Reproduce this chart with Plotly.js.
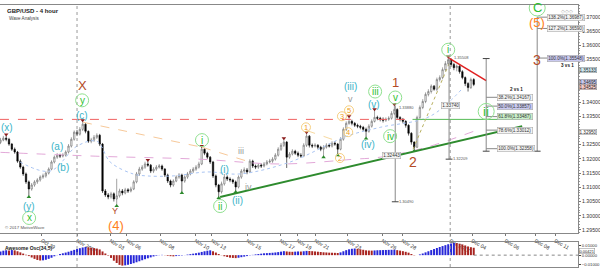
<!DOCTYPE html>
<html><head><meta charset="utf-8">
<script src="https://cdn.plot.ly/plotly-3.0.1.min.js"></script>
<style>html,body{margin:0;padding:0;background:#fff;}#chart{width:600px;height:271px;}</style>
</head><body><div id="chart"></div>
<script>
// ---- 4-hour candles (GBP/USD) ----
const opens = [
1.3258,1.3266,1.3273,1.3269,1.3252,1.3234,1.3224,1.3192,1.3171,1.3147,
1.3119,1.3094,1.3108,1.3119,1.3126,1.3136,1.3140,1.3150,1.3164,1.3189,
1.3206,1.3213,1.3210,1.3213,1.3224,1.3245,1.3269,1.3294,1.3287,1.3304,
1.3322,1.3297,1.3262,1.3266,1.3276,1.3283,1.3252,1.3087,1.3073,1.3066,
1.3077,1.3059,1.3070,1.3087,1.3080,1.3091,1.3087,1.3094,1.3119,1.3147,
1.3164,1.3171,1.3182,1.3178,1.3157,1.3164,1.3171,1.3175,1.3164,1.3143,
1.3122,1.3108,1.3122,1.3136,1.3143,1.3122,1.3136,1.3147,1.3157,1.3164,
1.3171,1.3182,1.3234,1.3220,1.3206,1.3189,1.3140,1.3108,1.3084,1.3112,
1.3136,1.3129,1.3126,1.3119,1.3101,1.3136,1.3157,1.3161,1.3154,1.3192,
1.3175,1.3171,1.3178,1.3175,1.3182,1.3189,1.3192,1.3199,1.3213,1.3234,
1.3248,1.3259,1.3206,1.3217,1.3227,1.3220,1.3213,1.3210,1.3248,1.3280,
1.3248,1.3245,1.3248,1.3241,1.3234,1.3241,1.3248,1.3245,1.3255,1.3252,
1.3234,1.3269,1.3304,1.3325,1.3332,1.3325,1.3318,1.3315,1.3311,1.3304,
1.3297,1.3315,1.3332,1.3346,1.3343,1.3339,1.3336,1.3339,1.3343,1.3360,
1.3374,1.3346,1.3339,1.3332,1.3318,1.3290,1.3259,1.3241,1.3346,1.3381,
1.3402,1.3427,1.3437,1.3456,1.3445,1.3479,1.3486,1.3514,1.3535,1.3549,
1.3532,1.3521,1.3526,1.3507,1.3486,1.3465,1.3451,1.3479];
const highs = [
1.3274,1.3281,1.3282,1.3274,1.3256,1.3240,1.3228,1.3198,1.3176,1.3152,
1.3124,1.3115,1.3125,1.3132,1.3142,1.3148,1.3156,1.3170,1.3195,1.3212,
1.3220,1.3218,1.3220,1.3230,1.3252,1.3276,1.3300,1.3302,1.3312,1.3332,
1.3326,1.3300,1.3274,1.3284,1.3290,1.3288,1.3256,1.3094,1.3080,1.3084,
1.3082,1.3130,1.3095,1.3094,1.3098,1.3097,1.3102,1.3125,1.3154,1.3172,
1.3178,1.3190,1.3192,1.3182,1.3171,1.3178,1.3182,1.3180,1.3168,1.3148,
1.3127,1.3128,1.3142,1.3150,1.3148,1.3142,1.3154,1.3164,1.3171,1.3178,
1.3190,1.3241,1.3238,1.3225,1.3210,1.3193,1.3145,1.3112,1.3120,1.3147,
1.3142,1.3135,1.3130,1.3124,1.3142,1.3164,1.3170,1.3168,1.3199,1.3197,
1.3180,1.3185,1.3184,1.3189,1.3196,1.3200,1.3206,1.3220,1.3241,1.3256,
1.3269,1.3263,1.3224,1.3234,1.3232,1.3226,1.3220,1.3255,1.3290,1.3284,
1.3254,1.3255,1.3252,1.3246,1.3248,1.3255,1.3254,1.3262,1.3262,1.3256,
1.3276,1.3311,1.3332,1.3346,1.3338,1.3330,1.3324,1.3320,1.3316,1.3310,
1.3322,1.3339,1.3371,1.3352,1.3348,1.3346,1.3346,1.3350,1.3368,1.3388,
1.3378,1.3350,1.3344,1.3336,1.3322,1.3294,1.3262,1.3352,1.3388,1.3410,
1.3434,1.3445,1.3462,1.3460,1.3486,1.3494,1.3522,1.3544,1.3556,1.3554,
1.3538,1.3532,1.3530,1.3512,1.3490,1.3470,1.3486,1.3484];
const lows = [
1.3252,1.3262,1.3262,1.3246,1.3228,1.3218,1.3186,1.3165,1.3140,1.3112,
1.3070,1.3088,1.3102,1.3112,1.3120,1.3130,1.3134,1.3145,1.3160,1.3184,
1.3200,1.3203,1.3205,1.3208,1.3219,1.3240,1.3264,1.3280,1.3282,1.3298,
1.3290,1.3256,1.3255,1.3260,1.3270,1.3245,1.3080,1.3066,1.3058,1.3060,
1.3050,1.3038,1.3064,1.3072,1.3075,1.3080,1.3082,1.3090,1.3114,1.3140,
1.3158,1.3165,1.3172,1.3150,1.3150,1.3158,1.3166,1.3158,1.3136,1.3115,
1.3100,1.3102,1.3118,1.3130,1.3084,1.3116,1.3130,1.3142,1.3150,1.3158,
1.3166,1.3178,1.3213,1.3200,1.3182,1.3133,1.3100,1.3066,1.3078,1.3106,
1.3122,1.3118,1.3112,1.3087,1.3096,1.3130,1.3150,1.3146,1.3150,1.3168,
1.3164,1.3165,1.3168,1.3170,1.3177,1.3184,1.3186,1.3194,1.3208,1.3228,
1.3242,1.3168,1.3200,1.3212,1.3214,1.3206,1.3204,1.3206,1.3242,1.3240,
1.3238,1.3240,1.3234,1.3227,1.3210,1.3236,1.3240,1.3240,1.3246,1.3217,
1.3230,1.3264,1.3298,1.3320,1.3318,1.3312,1.3308,1.3304,1.3298,1.3276,
1.3292,1.3310,1.3328,1.3336,1.3332,1.3328,1.3330,1.3334,1.3338,1.3354,
1.3340,1.3332,1.3325,1.3310,1.3282,1.3250,1.3232,1.3238,1.3340,1.3375,
1.3396,1.3420,1.3430,1.3440,1.3438,1.3472,1.3480,1.3508,1.3528,1.3524,
1.3512,1.3508,1.3500,1.3480,1.3456,1.3437,1.3446,1.3456];
const closes = [
1.3266,1.3273,1.3269,1.3252,1.3234,1.3224,1.3192,1.3171,1.3147,1.3119,
1.3094,1.3108,1.3119,1.3126,1.3136,1.3140,1.3150,1.3164,1.3189,1.3206,
1.3213,1.3210,1.3213,1.3224,1.3245,1.3269,1.3294,1.3287,1.3304,1.3322,
1.3297,1.3262,1.3266,1.3276,1.3283,1.3252,1.3087,1.3073,1.3066,1.3077,
1.3059,1.3070,1.3087,1.3080,1.3091,1.3087,1.3094,1.3119,1.3147,1.3164,
1.3171,1.3182,1.3178,1.3157,1.3164,1.3171,1.3175,1.3164,1.3143,1.3122,
1.3108,1.3122,1.3136,1.3143,1.3122,1.3136,1.3147,1.3157,1.3164,1.3171,
1.3182,1.3234,1.3220,1.3206,1.3189,1.3140,1.3108,1.3084,1.3112,1.3136,
1.3129,1.3126,1.3119,1.3101,1.3136,1.3157,1.3161,1.3154,1.3192,1.3175,
1.3171,1.3178,1.3175,1.3182,1.3189,1.3192,1.3199,1.3213,1.3234,1.3248,
1.3259,1.3206,1.3217,1.3227,1.3220,1.3213,1.3210,1.3248,1.3280,1.3248,
1.3245,1.3248,1.3241,1.3234,1.3241,1.3248,1.3245,1.3255,1.3252,1.3234,
1.3269,1.3304,1.3325,1.3332,1.3325,1.3318,1.3315,1.3311,1.3304,1.3297,
1.3315,1.3332,1.3346,1.3343,1.3339,1.3336,1.3339,1.3343,1.3360,1.3374,
1.3346,1.3339,1.3332,1.3318,1.3290,1.3259,1.3241,1.3346,1.3381,1.3402,
1.3427,1.3437,1.3456,1.3445,1.3479,1.3486,1.3514,1.3535,1.3549,1.3532,
1.3521,1.3526,1.3507,1.3486,1.3465,1.3451,1.3479,1.3462];
// Awesome Oscillator (34,5)
const aoValues = [
0.0040,0.0048,0.0053,0.0050,0.0055,0.0052,0.0042,0.0030,0.0017,0.0005,
-0.0010,-0.0025,-0.0040,-0.0052,-0.0058,-0.0056,-0.0050,-0.0040,-0.0028,-0.0012,
0.0002,0.0012,0.0020,0.0028,0.0037,0.0047,0.0057,0.0066,0.0075,0.0083,
0.0088,0.0085,0.0080,0.0076,0.0071,0.0062,0.0040,0.0018,-0.0005,-0.0030,
-0.0060,-0.0085,-0.0105,-0.0113,-0.0110,-0.0104,-0.0096,-0.0087,-0.0077,-0.0066,
-0.0055,-0.0044,-0.0034,-0.0024,-0.0014,-0.0006,0.0002,0.0003,-0.0002,-0.0007,
-0.0011,-0.0013,-0.0010,-0.0006,-0.0004,0.0001,0.0006,0.0011,0.0016,0.0021,
0.0027,0.0035,0.0042,0.0048,0.0052,0.0042,0.0028,0.0012,-0.0002,-0.0012,
-0.0020,-0.0027,-0.0030,-0.0032,-0.0028,-0.0022,-0.0016,-0.0010,-0.0003,0.0003,
0.0008,0.0012,0.0016,0.0020,0.0022,0.0024,0.0026,0.0029,0.0033,0.0038,
0.0043,0.0040,0.0037,0.0036,0.0038,0.0040,0.0039,0.0042,0.0046,0.0045,
0.0043,0.0040,0.0037,0.0034,0.0031,0.0029,0.0027,0.0026,0.0025,0.0023,
0.0030,0.0042,0.0054,0.0063,0.0069,0.0072,0.0068,0.0063,0.0058,0.0052,
0.0050,0.0049,0.0051,0.0053,0.0054,0.0055,0.0056,0.0057,0.0058,0.0059,
0.0054,0.0049,0.0043,0.0036,0.0027,0.0012,-0.0003,0.0000,0.0008,0.0018,
0.0030,0.0042,0.0055,0.0066,0.0077,0.0088,0.0098,0.0108,0.0118,0.0126,
0.0132,0.0130,0.0124,0.0116,0.0105,0.0094,0.0086,0.0080];
// x-axis ticks (position in candle index)
const tickLabels = ['Oct 29','Nov 2017','Nov 03','Nov 06','Nov 08','Nov 10','Nov 13','Nov 15','Nov 17','Nov 19','Nov 21','Nov 23','Nov 26','Nov 28','Dec 2017','Dec 04','Dec 06','Dec 08','Dec 11'];
const tickIndex = [14.6,27.0,38.7,44.6,56.3,68.7,74.6,87.0,98.7,104.7,111.0,122.3,134.7,141.7,158.7,166.4,178.1,188.7,195.7];
const monthBreaks = [27.0,158.7];
// price-axis labels shown (others hidden behind price tags)
const priceTicks = [1.295,1.300,1.305,1.310,1.315,1.320,1.325,1.335,1.340,1.355,1.360,1.365,1.370];
// moving averages
const maFastX = [6.9,17.5,27,34,38.7,46.8,51.7,60.9,72.9,84.5,102.2,122.3,134,151.6,163.3];
const maFastY = [1.3189,1.3157,1.3245,1.3262,1.3189,1.3147,1.3140,1.3140,1.3154,1.3147,1.3189,1.3280,1.3311,1.3350,1.3451];
const maSlowX = [0,35,70,99,125,134,150,167];
const maSlowY = [1.3223,1.3209,1.3199,1.3182,1.3199,1.3206,1.3240,1.3297];
// wave labels [text, candle index, price]
const greenCircled = [['x',10.1,1.2992,6.5],['y',28.8,1.3406,6.5],['i',71.1,1.3266,6.5],['ii',77.5,1.3034,6.5],['iii',132.2,1.3437,6.5],['iv',137.5,1.3280,6.5],['v',139.3,1.3416,6.5],['i',158.0,1.3584,6.5],['ii',171.4,1.3367,8],['C',189.4,1.3731,8]];
const cyanLabels = [['(x)',2.3,1.3311],['(y)',10.1,1.3034],['(a)',19.9,1.3244],['(b)',22.1,1.3171],['(c)',28.8,1.3353],['(i)',78.9,1.3164],['(ii)',83.5,1.3052],['(iii)',123.4,1.3455],['(iv)',129.7,1.3252],['(v)',131.8,1.3392]];
const yellowCircled = [['1',107.8,1.3311],['2',119.8,1.3203],['3',120.5,1.3350],['4',122.7,1.3294],['5',123.0,1.3371]];
const greyLabels = [['iii',84.9,1.3227],['iv',87.4,1.3101],['v',123.4,1.3409]];
const brownLabels = [['X',28.8,1.3458,13],['Y',40.4,1.3018,9],['1',139.3,1.3469,13],['2',145.6,1.3189,14],['3',189.4,1.3549,14]];
const orangeLabels = [['(4)',40.8,1.2964],['(5)',189.4,1.3679]];
// fibonacci tools
const fibMidPct = ['38.2%','50.0%','61.8%','78.6%','100.0%'];
const fibMidPrice = [1.34167,1.33857,1.33487,1.33012,1.32358];
const fibTopPct = ['138.2%','127.2%','100.0%'];
const fibTopPrice = [1.36987,1.36590,1.35548];
const swingHighIdx = [2,29,52,71,100,108,123,132,139,158];
const swingLowIdx = [10,41,64,77,83,114,119,129,146];
// price tags on the right axis
const tagText = ['1.35133','1.34695','1.34525','1.32950'];
const tagPrice = [1.35133,1.34695,1.34525,1.32950];
const aoTagValue = 0.00421;

const N = closes.length;
const xs = closes.map((_, i) => i);
const red = '#a8231f', blue = '#2727d8';
const aoColors = aoValues.map((v, i) => (i > 0 && v < aoValues[i - 1]) ? red : blue);
const fontFam = 'Liberation Sans, Arial, sans-serif';

const traces = [
  {type:'scatter', mode:'lines', x:maSlowX, y:maSlowY, line:{color:'#e2a8d8', width:1, dash:'dash', shape:'spline'}, hoverinfo:'skip'},
  {type:'scatter', mode:'lines', x:maFastX, y:maFastY, line:{color:'#a9c4f2', width:1, dash:'dot', shape:'spline'}, hoverinfo:'skip'},
  {type:'candlestick', x:xs, open:opens, high:highs, low:lows, close:closes,
   increasing:{line:{color:'#666', width:0.6}, fillcolor:'#ffffff'},
   decreasing:{line:{color:'#000', width:0.6}, fillcolor:'#000000'}, whiskerwidth:0, hoverinfo:'skip'},
  {type:'scatter', mode:'markers', x:swingHighIdx, y:swingHighIdx.map(i => highs[i] + 0.0004), marker:{symbol:'triangle-down', size:4, color:'#8b1c1c'}, hoverinfo:'skip'},
  {type:'scatter', mode:'markers', x:swingLowIdx, y:swingLowIdx.map(i => lows[i] - 0.0004), marker:{symbol:'triangle-up', size:4, color:'#2b8a2b'}, hoverinfo:'skip'},
  {type:'bar', x:xs, y:aoValues, xaxis:'x2', yaxis:'y2', marker:{color:aoColors, line:{width:0}}, width:0.7, hoverinfo:'skip'}
];

const shapes = [];
const annotations = [];
monthBreaks.forEach(v => shapes.push({type:'line', xref:'x', yref:'paper', x0:v, x1:v, y0:0, y1:1, line:{color:'#999', width:1, dash:'dot'}}));
shapes.push({type:'line', xref:'x', yref:'y', x0:-0.2, x1:145.4, y0:1.3339, y1:1.3339, line:{color:'#f06060', width:1, dash:'dash'}});
shapes.push({type:'line', xref:'x', yref:'y', x0:145.4, x1:183.4, y0:1.3339, y1:1.3339, line:{color:'#55bb55', width:1}});
shapes.push({type:'line', xref:'x', yref:'y', x0:77.5, y0:1.3066, x1:184.1, y1:1.3315, line:{color:'#2e8b2e', width:2}});
shapes.push({type:'line', xref:'x', yref:'y', x0:158.0, y0:1.3556, x1:171.4, y1:1.3475, line:{color:'#e02020', width:1.5}});
shapes.push({type:'line', xref:'x', yref:'y', x0:145.6, y0:1.3234, x1:158.6, y1:1.3542, line:{color:'#b8b060', width:1, dash:'dot'}});
shapes.push({type:'line', xref:'x', yref:'y', x0:29.1, y0:1.3329, x1:71.1, y1:1.3241, line:{color:'#f7c99a', width:1, dash:'dash'}});
shapes.push({type:'line', xref:'x', yref:'y', x0:71.1, y0:1.3241, x1:88, y1:1.3189, line:{color:'#f7c99a', width:1, dash:'dash'}});
shapes.push({type:'line', xref:'x', yref:'y', x0:108, y0:1.3300, x1:119, y1:1.3262, line:{color:'#f7d9a0', width:1, dash:'dash'}});
function vtool(x, yTop, yBot, topBar) {
  shapes.push({type:'line', xref:'x', yref:'y', x0:x, x1:x, y0:yTop, y1:yBot, line:{color:'#888', width:1}});
  shapes.push({type:'line', xref:'x', yref:'y', x0:x-1.2, x1:x+1.2, y0:yBot, y1:yBot, line:{color:'#444', width:1}});
  if (topBar) shapes.push({type:'line', xref:'x', yref:'y', x0:x-1.2, x1:x+1.2, y0:yTop, y1:yTop, line:{color:'#444', width:1}});
}
vtool(171.4, 1.3553, 1.3227, true);
vtool(189.4, 1.3700, 1.3227, false);
vtool(139.3, 1.3388, 1.3049, false);
vtool(158.3, 1.3556, 1.3199, false);
function fibBox(txt, x, y, bg) {
  annotations.push({xref:'x', yref:'y', x:x, y:y, text:txt, showarrow:false, xanchor:'left', yanchor:'middle',
    font:{size:4.6, color:'#333', family:fontFam}, bgcolor:bg, bordercolor:'#aaa', borderwidth:0.6, borderpad:0.6});
}
const midBg = ['#f4f4f4','#c9c9f0','#c9efc9','#f4f4f4','#f4f4f4'];
fibMidPct.forEach((p, k) => {
  shapes.push({type:'line', xref:'x', yref:'y', x0:171.4, x1:175.3, y0:fibMidPrice[k], y1:fibMidPrice[k], line:{color:'#888', width:1}});
  fibBox(p + '(' + fibMidPrice[k].toFixed(5) + ')', 175.3, fibMidPrice[k], midBg[k]);
});
const topBg = ['#f4f4f4','#f4f4f4','#c9c9f0'];
fibTopPct.forEach((p, k) => {
  shapes.push({type:'line', xref:'x', yref:'y', x0:189.4, x1:192.9, y0:fibTopPrice[k], y1:fibTopPrice[k], line:{color:'#888', width:1}});
  fibBox(p + '(' + fibTopPrice[k].toFixed(5) + ')', 192.9, fibTopPrice[k], topBg[k]);
});
annotations.push({xref:'x', yref:'y', x:185, y:1.3444, text:'<b>2 vs 1</b>', showarrow:false, xanchor:'right', font:{size:4.6, color:'#222', family:fontFam}});
annotations.push({xref:'x', yref:'y', x:203, y:1.3530, text:'<b>3 vs 1</b>', showarrow:false, xanchor:'right', font:{size:4.6, color:'#222', family:fontFam}});
fibBox('1.32443', 134.5, 1.3213, '#f4f4f4');
fibBox('1.33740', 155.5, 1.3387, '#f4f4f4');
annotations.push({xref:'x', yref:'y', x:140, y:1.3382, text:'1.33880', showarrow:false, xanchor:'left', font:{size:4, color:'#555', family:fontFam}});
annotations.push({xref:'x', yref:'y', x:140, y:1.3049, text:'1.30490', showarrow:false, xanchor:'left', font:{size:4, color:'#555', family:fontFam}});
annotations.push({xref:'x', yref:'y', x:159, y:1.3203, text:'1.32209', showarrow:false, xanchor:'left', font:{size:4, color:'#555', family:fontFam}});
annotations.push({xref:'x', yref:'y', x:159.5, y:1.3556, text:'1.35508', showarrow:false, xanchor:'left', font:{size:4, color:'#555', family:fontFam}});

function circled(t, x, y, r, col, ring, fs) {
  shapes.push({type:'circle', xref:'x', yref:'y', xsizemode:'pixel', ysizemode:'pixel', xanchor:x, yanchor:y, x0:-r, x1:r, y0:-r, y1:r, line:{color:ring, width:1}});
  annotations.push({xref:'x', yref:'y', x:x, y:y, text:t, showarrow:false, font:{size:fs, color:col, family:fontFam}, xanchor:'center', yanchor:'middle'});
}
greenCircled.forEach(g => circled(g[0], g[1], g[2], g[3], '#2fbf2f', '#8fe08f', g[3] > 7 ? 13 : 10));
yellowCircled.forEach(g => circled(g[0], g[1], g[2], 4.5, '#f0a020', '#f6cf80', 7.5));
cyanLabels.forEach(c => annotations.push({xref:'x', yref:'y', x:c[1], y:c[2], text:c[0], showarrow:false, font:{size:10, color:'#3ab4c8', family:fontFam}}));
greyLabels.forEach(c => annotations.push({xref:'x', yref:'y', x:c[1], y:c[2], text:c[0], showarrow:false, font:{size:9, color:'#9a9a9a', family:fontFam}}));
brownLabels.forEach(c => annotations.push({xref:'x', yref:'y', x:c[1], y:c[2], text:c[0], showarrow:false, font:{size:c[3], color:'#b34a26', family:fontFam}}));
orangeLabels.forEach(c => annotations.push({xref:'x', yref:'y', x:c[1], y:c[2], text:c[0], showarrow:false, font:{size:13, color:'#ff8020', family:fontFam}}));

annotations.push({xref:'paper', yref:'paper', x:0.008, y:0.995, xanchor:'left', yanchor:'top', text:'<b>GBP/USD - 4 hour</b>', showarrow:false, font:{size:6, color:'#222', family:fontFam}});
annotations.push({xref:'paper', yref:'paper', x:0.012, y:0.965, xanchor:'left', yanchor:'top', text:'Wave Analysis', showarrow:false, font:{size:4.6, color:'#444', family:fontFam}});
annotations.push({xref:'paper', yref:'paper', x:0.005, y:0.15, xanchor:'left', yanchor:'middle', text:'© 2017 MotiveWave', showarrow:false, font:{size:4.4, color:'#555', family:fontFam}});
annotations.push({xref:'paper', yref:'paper', x:0.005, y:0.093, xanchor:'left', yanchor:'top', text:'<b>Awesome Osc(34,5)</b>', showarrow:false, font:{size:5, color:'#222', family:fontFam}});
annotations.push({xref:'paper', yref:'paper', x:0.995, y:0.998, xanchor:'right', yanchor:'top', text:'◇◇◇', showarrow:false, font:{size:5, color:'#aaa'}});
const tagBg = ['#cfe8f0','#c9c9f0','#f3c9c9','#ffffff'];
tagText.forEach((t, k) => annotations.push({xref:'paper', yref:'y', x:1.002, y:tagPrice[k], xanchor:'left', text:t, showarrow:false,
  font:{size:4.6, color:'#222', family:fontFam}, bgcolor:tagBg[k], bordercolor:'#888', borderwidth:0.5, borderpad:0}));
annotations.push({xref:'paper', yref:'y2', x:1.002, y:aoTagValue, xanchor:'left', yanchor:'middle', text:aoTagValue.toFixed(5), showarrow:false,
  font:{size:4, color:'#222', family:fontFam}, bgcolor:'#fff', bordercolor:'#888', borderwidth:0.5, borderpad:0});
shapes.push({type:'line', xref:'x2', yref:'y2', x0:167, x1:203.8, y0:0, y1:0, line:{color:'#888', width:1, dash:'dot'}});

const layout = {
  width:600, height:271, margin:{l:0, r:22, t:5, b:4},
  paper_bgcolor:'#ffffff', plot_bgcolor:'#ffffff', showlegend:false, bargap:0.2,
  font:{family:fontFam, size:5.5, color:'#333'},
  xaxis:{domain:[0,1], anchor:'y', range:[-0.18,203.8], tickvals:tickIndex, ticktext:tickLabels, tickfont:{size:5.2, color:'#333'},
    ticks:'outside', ticklen:2, tickcolor:'#777', showgrid:false, zeroline:false, showline:true, linecolor:'#888', mirror:true,
    rangeslider:{visible:false}, fixedrange:true},
  yaxis:{domain:[0.1307,1], range:[1.2940,1.37415], side:'right', tickformat:'.5f', tickvals:priceTicks,
    tickfont:{size:5.2, color:'#333'}, ticks:'outside', ticklen:2, tickcolor:'#777', showgrid:false, zeroline:false, showline:true, linecolor:'#888', mirror:true,
    minor:{ticks:'outside', ticklen:1, dtick:0.001, tickcolor:'#999'}, fixedrange:true},
  xaxis2:{domain:[0,1], anchor:'y2', range:[-0.18,203.8], showticklabels:false, ticks:'', showgrid:false, zeroline:false, showline:true, linecolor:'#888', mirror:true, fixedrange:true},
  yaxis2:{domain:[0,0.0954], range:[-0.0128,0.0142], side:'right', tickvals:[-0.01,0,0.01], tickformat:'.5f',
    tickfont:{size:4.2, color:'#333'}, ticks:'outside', ticklen:2, showgrid:false, zeroline:false, showline:true, linecolor:'#888', mirror:true, fixedrange:true},
  shapes:shapes, annotations:annotations
};
Plotly.newPlot('chart', traces, layout, {staticPlot:true, displayModeBar:false});
</script></body></html>
